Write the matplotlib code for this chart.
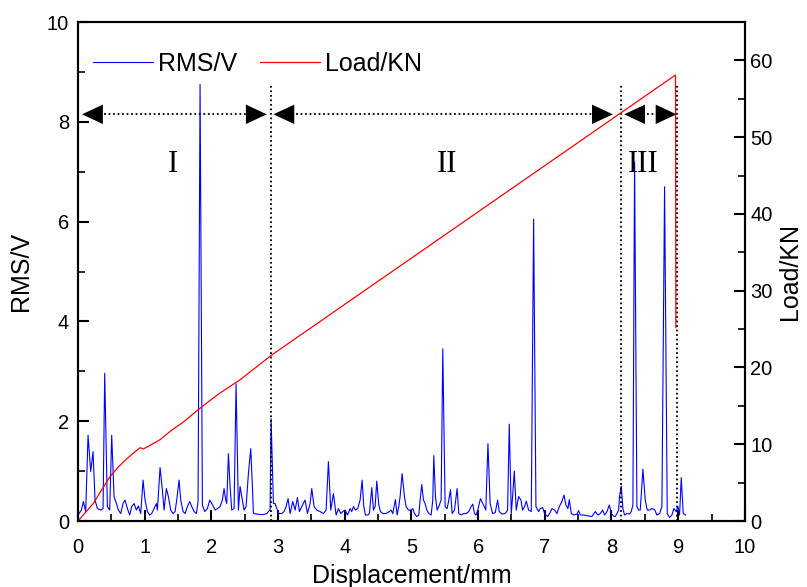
"""RMS / load vs displacement chart. Headless (Agg)."""
import matplotlib

matplotlib.use("Agg")
import matplotlib.pyplot as plt  # noqa: E402
from matplotlib.ticker import MultipleLocator  # noqa: E402

plt.rcParams["font.family"] = ["Liberation Sans", "DejaVu Sans"]

# acoustic emission RMS (V) vs displacement (mm)
rms_x = [
    0.00, 0.015, 0.05, 0.08, 0.115, 0.15, 0.19, 0.225, 0.255, 0.29, 0.34, 0.375, 0.40, 0.44, 0.475,
    0.505, 0.54, 0.575, 0.605, 0.64, 0.675, 0.705, 0.74, 0.775, 0.805, 0.84, 0.875, 0.905, 0.94,
    0.975, 1.005, 1.04, 1.075, 1.105, 1.14, 1.175, 1.19, 1.23, 1.265, 1.29, 1.325, 1.355, 1.39,
    1.425, 1.455, 1.48, 1.515, 1.54, 1.575, 1.605, 1.64, 1.675, 1.705, 1.74, 1.775, 1.80, 1.83,
    1.865, 1.90, 1.94, 1.975, 2.02, 2.055, 2.09, 2.13, 2.165, 2.19, 2.215, 2.23, 2.255, 2.28,
    2.305, 2.34, 2.37, 2.405, 2.43, 2.465, 2.49, 2.52, 2.555, 2.59, 2.615, 2.63, 2.68, 2.73,
    2.78, 2.83, 2.855, 2.88, 2.895, 2.93, 2.955, 2.98, 3.015, 3.055, 3.09, 3.12, 3.15, 3.18,
    3.22, 3.255, 3.29, 3.32, 3.355, 3.405, 3.44, 3.48, 3.505, 3.54, 3.58, 3.63, 3.68, 3.72,
    3.755, 3.79, 3.83, 3.87, 3.905, 3.94, 3.97, 4.005, 4.04, 4.08, 4.105, 4.13, 4.16, 4.195,
    4.23, 4.26, 4.285, 4.31, 4.345, 4.37, 4.405, 4.43, 4.455, 4.48, 4.51, 4.535, 4.57, 4.62,
    4.67, 4.695, 4.72, 4.76, 4.785, 4.81, 4.83, 4.86, 4.895, 4.92, 4.955, 4.995, 5.02, 5.045,
    5.08, 5.11, 5.13, 5.155, 5.18, 5.205, 5.23, 5.26, 5.295, 5.32, 5.335, 5.36, 5.385, 5.41,
    5.445, 5.47, 5.505, 5.535, 5.56, 5.585, 5.61, 5.645, 5.67, 5.685, 5.71, 5.745, 5.78, 5.82,
    5.86, 5.895, 5.92, 5.945, 5.97, 5.995, 6.035, 6.08, 6.115, 6.147, 6.18, 6.217, 6.257, 6.292,
    6.317, 6.357, 6.407, 6.442, 6.467, 6.497, 6.517, 6.542, 6.572, 6.607, 6.642, 6.667, 6.697,
    6.722, 6.757, 6.797, 6.832, 6.867, 6.907, 6.932, 6.967, 6.997, 7.017, 7.042, 7.072, 7.107,
    7.147, 7.182, 7.217, 7.257, 7.287, 7.317, 7.347, 7.367, 7.397, 7.432, 7.482, 7.507, 7.532,
    7.582, 7.657, 7.707, 7.757, 7.797, 7.832, 7.867, 7.897, 7.932, 7.967, 7.997, 8.032, 8.057,
    8.082, 8.107, 8.12, 8.146, 8.171, 8.196, 8.231, 8.271, 8.296, 8.321, 8.346, 8.381, 8.406,
    8.431, 8.471, 8.506, 8.536, 8.571, 8.606, 8.646, 8.681, 8.721, 8.756, 8.796, 8.836, 8.871,
    8.906, 8.936, 8.971, 8.996, 9.021, 9.046, 9.076, 9.111,
]
rms_v = [
    0.12, 0.15, 0.22, 0.39, 0.19, 1.72, 0.99, 1.39, 0.42, 0.25, 0.22, 0.25, 2.96, 0.29, 0.22,
    1.72, 0.49, 0.35, 0.22, 0.15, 0.35, 0.42, 0.25, 0.12, 0.29, 0.35, 0.22, 0.30, 0.15,
    0.82, 0.42, 0.19, 0.12, 0.15, 0.25, 0.35, 0.22, 1.07, 0.62, 0.22, 0.65, 0.49, 0.22,
    0.15, 0.19, 0.42, 0.82, 0.42, 0.19, 0.15, 0.29, 0.39, 0.29, 0.19, 0.15, 0.39, 8.75,
    0.32, 0.19, 0.25, 0.42, 0.32, 0.22, 0.25, 0.29, 0.42, 0.65, 0.42, 0.35, 1.35, 0.69,
    0.22, 0.25, 2.75, 0.22, 0.69, 0.42, 0.22, 0.29, 0.95, 1.45, 0.69, 0.15, 0.14, 0.13,
    0.13, 0.15, 0.19, 0.22, 2.05, 0.35, 0.35, 0.25, 0.15, 0.15, 0.19, 0.29, 0.45, 0.15,
    0.39, 0.22, 0.47, 0.19, 0.29, 0.42, 0.15, 0.35, 0.65, 0.29, 0.22, 0.19, 0.15, 0.22,
    1.19, 0.22, 0.55, 0.12, 0.25, 0.15, 0.19, 0.22, 0.12, 0.25, 0.19, 0.29, 0.22, 0.25,
    0.42, 0.82, 0.29, 0.12, 0.12, 0.15, 0.67, 0.22, 0.29, 0.80, 0.32, 0.19, 0.15, 0.15,
    0.19, 0.22, 0.15, 0.43, 0.12, 0.29, 0.49, 0.95, 0.49, 0.29, 0.22, 0.22, 0.25, 0.15,
    0.09, 0.12, 0.42, 0.73, 0.42, 0.35, 0.22, 0.15, 0.12, 0.42, 1.31, 0.49, 0.22, 0.29,
    0.42, 3.45, 0.29, 0.25, 0.42, 0.63, 0.15, 0.22, 0.49, 0.65, 0.15, 0.12, 0.15, 0.15,
    0.19, 0.29, 0.34, 0.15, 0.12, 0.22, 0.45, 0.32, 0.22, 1.55, 0.35, 0.15, 0.17, 0.42,
    0.19, 0.14, 0.15, 0.22, 1.94, 0.15, 0.49, 1.00, 0.22, 0.49, 0.42, 0.22, 0.29,
    0.40, 0.22, 0.19, 6.05, 0.29, 0.19, 0.25, 0.27, 0.15, 0.12, 0.09, 0.15, 0.25,
    0.22, 0.15, 0.29, 0.39, 0.52, 0.32, 0.25, 0.43, 0.15, 0.12, 0.14, 0.21, 0.12,
    0.12, 0.10, 0.09, 0.19, 0.12, 0.15, 0.22, 0.12, 0.19, 0.32, 0.15, 0.10, 0.09,
    0.15, 0.22, 0.49, 0.70, 0.25, 0.12, 0.15, 0.14, 0.19, 0.32, 7.20, 0.29, 0.22,
    0.22, 1.04, 0.42, 0.22, 0.22, 0.25, 0.23, 0.12, 0.15, 0.29, 6.70, 0.15, 0.07,
    0.12, 0.25, 0.19, 0.29, 0.12, 0.87, 0.15, 0.12,
]

# load (kN) vs displacement (mm)
load_x = [0.0, 0.1, 0.23, 0.35, 0.48, 0.6, 0.73, 0.85, 0.93, 0.98, 1.05, 1.23, 1.4, 1.58,
          1.83, 2.1, 2.43, 2.9, 8.96, 8.965]
load_kn = [0.0, 1.0, 2.3, 4.0, 5.8, 7.0, 8.1, 9.0, 9.55, 9.4, 9.7, 10.6, 11.8, 12.9,
           14.7, 16.5, 18.4, 21.6, 58.1, 25.2]

stage_bounds = [2.9, 8.15, 8.985]
stage_names = ["I", "II", "III"]
stage_label_x = [1.42, 5.53, 8.47]
arrow_spans = [(0.06, 2.83), (2.93, 8.02), (8.19, 8.975)]

BLUE = "#0000FF"
RED = "#FF0000"

fig = plt.figure(figsize=(8.07, 5.87), dpi=100)
ax = fig.add_axes([0.0967, 0.1124, 0.8263, 0.8501])
ax2 = ax.twinx()

l1, = ax.plot(rms_x, rms_v, color=BLUE, lw=0.8, label="RMS/V")
l2, = ax2.plot(load_x, load_kn, color=RED, lw=0.9, label="Load/KN")

ax.set_xlim(0, 10)
ax.set_ylim(0, 10)
ax2.set_ylim(0, 65)
ax.xaxis.set_major_locator(MultipleLocator(1))
ax.xaxis.set_minor_locator(MultipleLocator(0.5))
ax.yaxis.set_major_locator(MultipleLocator(2))
ax.yaxis.set_minor_locator(MultipleLocator(1))
ax2.yaxis.set_major_locator(MultipleLocator(10))
ax2.yaxis.set_minor_locator(MultipleLocator(5))

for a in (ax, ax2):
    a.tick_params(which="major", direction="in", length=8, width=1.5, labelsize=14.5)
    a.tick_params(which="minor", direction="in", length=5, width=1.2)
    for s in a.spines.values():
        s.set_linewidth(1.5)
ax.tick_params(axis="x", pad=12)
ax.tick_params(axis="y", pad=6.5)
ax2.tick_params(axis="y", pad=4)

ax.set_xlabel("Displacement/mm", fontsize=18, labelpad=5)
ax.set_ylabel("RMS/V", fontsize=18, labelpad=10)
ax2.set_ylabel("Load/KN", fontsize=18, labelpad=4)

# stage boundaries and spans
for xb in stage_bounds:
    ax.plot([xb, xb], [0, 8.75], ls=(0, (1, 1.5)), color="k", lw=1.3)
y_arr = 8.15
for x0, x1 in arrow_spans:
    ax.plot([x0 + 0.2, x1 - 0.2], [y_arr, y_arr], ls=(0, (1, 1.5)), color="k", lw=1.3)
    for tip, tail in ((x0, x0 + 0.3), (x1, x1 - 0.3)):
        ax.annotate("", xy=(tip, y_arr), xytext=(tail, y_arr),
                    arrowprops=dict(arrowstyle="-|>,head_length=0.75,head_width=0.35",
                                    fc="k", ec="k", lw=0, mutation_scale=20,
                                    shrinkA=0, shrinkB=0))
for xl, name in zip(stage_label_x, stage_names):
    ax.text(xl, 7.15, name, ha="center", va="center", fontsize=22,
            family=["Liberation Serif", "DejaVu Serif"])

ax2.legend([l1, l2], ["RMS/V", "Load/KN"], loc="upper left", ncol=2, frameon=False,
           fontsize=18, handlelength=2.4, columnspacing=0.9, handletextpad=0.2,
           bbox_to_anchor=(0.0, 0.97), borderaxespad=0.2)

fig.savefig("out.png", dpi=100)
plt.close(fig)
